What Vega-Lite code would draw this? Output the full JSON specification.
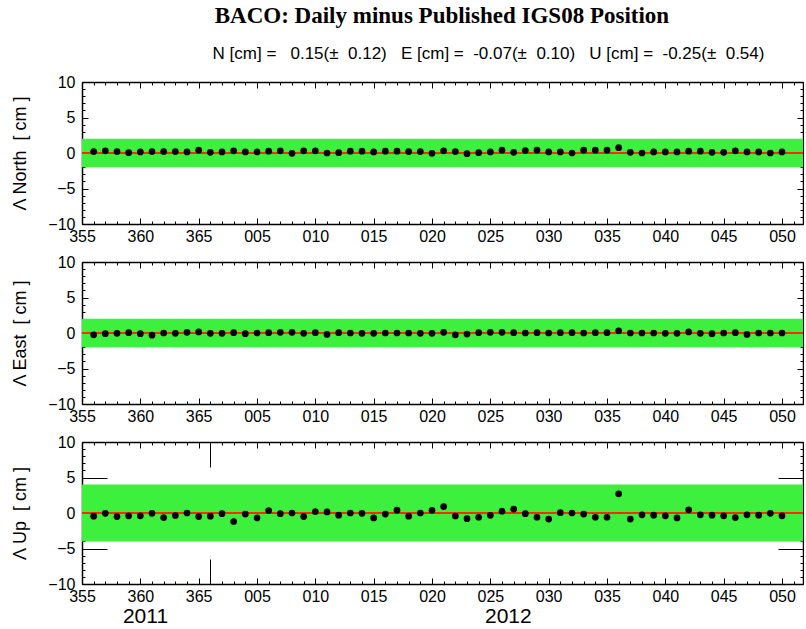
{
  "$schema": "https://vega.github.io/schema/vega-lite/v6.json",
  "background": "white",
  "padding": {"left": 11, "top": 5, "right": 0, "bottom": 0},
  "title": {"text": "BACO: Daily minus Published IGS08 Position", "font": "Liberation Serif", "fontSize": 23, "fontWeight": "bold", "color": "black", "anchor": "middle", "dx": 34, "offset": 17},
  "config": {
    "view": {"stroke": null},
    "axis": {"grid": false, "tickColor": "black", "tickWidth": 1, "domainColor": "black", "domainWidth": 1.5, "labelColor": "black", "labelFont": "Liberation Sans", "labelFontSize": 16, "titleColor": "black", "titleFont": "Liberation Sans", "titleFontSize": 18, "titleFontWeight": "normal", "zindex": 1, "labelFlush": false, "labelOverlap": false}
  },
  "datasets": {
    "d": [
      {"day": 1, "n": 0.2, "e": -0.25, "u": -0.45},
      {"day": 2, "n": 0.3, "e": -0.1, "u": -0.05},
      {"day": 3, "n": 0.2, "e": -0.05, "u": -0.5},
      {"day": 4, "n": 0.05, "e": 0.05, "u": -0.4},
      {"day": 5, "n": 0.15, "e": -0.1, "u": -0.4},
      {"day": 6, "n": 0.2, "e": -0.3, "u": -0.05},
      {"day": 7, "n": 0.2, "e": 0.0, "u": -0.65},
      {"day": 8, "n": 0.2, "e": -0.05, "u": -0.35},
      {"day": 9, "n": 0.15, "e": 0.1, "u": 0.0},
      {"day": 10, "n": 0.4, "e": 0.15, "u": -0.5},
      {"day": 11, "n": 0.1, "e": -0.05, "u": -0.45},
      {"day": 12, "n": 0.15, "e": -0.05, "u": -0.1},
      {"day": 13, "n": 0.3, "e": 0.05, "u": -1.2},
      {"day": 14, "n": 0.15, "e": -0.1, "u": -0.15},
      {"day": 15, "n": 0.15, "e": 0.0, "u": -0.7},
      {"day": 16, "n": 0.25, "e": 0.05, "u": 0.35},
      {"day": 17, "n": 0.3, "e": 0.1, "u": -0.1},
      {"day": 18, "n": -0.05, "e": 0.1, "u": 0.0},
      {"day": 19, "n": 0.3, "e": -0.05, "u": -0.5},
      {"day": 20, "n": 0.3, "e": 0.05, "u": 0.2},
      {"day": 21, "n": 0.0, "e": -0.2, "u": 0.15},
      {"day": 22, "n": 0.05, "e": 0.05, "u": -0.3},
      {"day": 23, "n": 0.25, "e": 0.0, "u": 0.0},
      {"day": 24, "n": 0.25, "e": -0.05, "u": -0.05},
      {"day": 25, "n": 0.15, "e": -0.05, "u": -0.7},
      {"day": 26, "n": 0.25, "e": 0.0, "u": -0.15},
      {"day": 27, "n": 0.25, "e": 0.0, "u": 0.4},
      {"day": 28, "n": 0.2, "e": 0.0, "u": -0.45},
      {"day": 29, "n": 0.2, "e": -0.05, "u": 0.0},
      {"day": 30, "n": -0.05, "e": -0.05, "u": 0.38},
      {"day": 31, "n": 0.3, "e": 0.1, "u": 0.9},
      {"day": 32, "n": 0.2, "e": -0.25, "u": -0.42},
      {"day": 33, "n": -0.1, "e": -0.15, "u": -0.8},
      {"day": 34, "n": 0.05, "e": 0.05, "u": -0.6},
      {"day": 35, "n": 0.15, "e": 0.1, "u": -0.33},
      {"day": 36, "n": 0.4, "e": 0.1, "u": 0.25},
      {"day": 37, "n": 0.1, "e": 0.05, "u": 0.55},
      {"day": 38, "n": 0.35, "e": 0.0, "u": -0.1},
      {"day": 39, "n": 0.4, "e": 0.05, "u": -0.6},
      {"day": 40, "n": 0.15, "e": 0.0, "u": -0.85},
      {"day": 41, "n": 0.15, "e": 0.05, "u": 0.05},
      {"day": 42, "n": 0.0, "e": 0.05, "u": 0.0},
      {"day": 43, "n": 0.4, "e": 0.0, "u": -0.15},
      {"day": 44, "n": 0.4, "e": 0.05, "u": -0.6},
      {"day": 45, "n": 0.4, "e": 0.05, "u": -0.6},
      {"day": 46, "n": 0.75, "e": 0.3, "u": 2.7},
      {"day": 47, "n": 0.1, "e": 0.0, "u": -0.85},
      {"day": 48, "n": 0.0, "e": 0.0, "u": -0.25},
      {"day": 49, "n": 0.15, "e": 0.0, "u": -0.3},
      {"day": 50, "n": 0.15, "e": -0.05, "u": -0.4},
      {"day": 51, "n": 0.15, "e": -0.05, "u": -0.7},
      {"day": 52, "n": 0.25, "e": 0.15, "u": 0.45},
      {"day": 53, "n": 0.25, "e": -0.05, "u": -0.25},
      {"day": 54, "n": 0.1, "e": -0.1, "u": -0.3},
      {"day": 55, "n": 0.1, "e": 0.0, "u": -0.4},
      {"day": 56, "n": 0.3, "e": 0.05, "u": -0.65},
      {"day": 57, "n": 0.15, "e": -0.2, "u": -0.25},
      {"day": 58, "n": 0.15, "e": 0.0, "u": -0.3},
      {"day": 59, "n": 0.0, "e": 0.0, "u": -0.05},
      {"day": 60, "n": 0.15, "e": 0.0, "u": -0.4}
    ]
  },
  "vconcat": [
    {
      "width": 721, "height": 142,
      "title": {"text": "N [cm] =\u00a0\u00a0 0.15(±\u00a0 0.12)\u00a0\u00a0 E [cm] =\u00a0 -0.07(±\u00a0 0.10)\u00a0\u00a0 U [cm] =\u00a0 -0.25(±\u00a0 0.54)", "font": "Liberation Sans", "fontSize": 17, "fontWeight": "normal", "color": "black", "anchor": "middle", "dx": 46, "offset": 11},
      "layer": [
        {"data": {"values": [{"lo": -2, "hi": 2}]}, "mark": {"type": "rect", "color": "#3ef03e"},
         "encoding": {
           "x": {"datum": 0, "type": "quantitative", "scale": {"domain": [0, 61.8], "nice": false, "zero": false}, "axis": {"orient": "bottom", "values": [0,5,10,15,20,25,30,35,40,45,50,55,60], "labelExpr": "datum.value <= 10 ? format(datum.value + 355, 'd') : format(datum.value - 10, '03d')", "tickSize": -6, "labelPadding": 10, "title": null}},
           "x2": {"datum": 61.8},
           "y": {"field": "lo", "type": "quantitative", "scale": {"domain": [-10, 10], "nice": false, "zero": false}, "axis": {"orient": "left", "values": [-10,-5,0,5,10], "tickSize": -6, "labelPadding": 13, "title": "Λ North\u00a0 [ cm ]", "titlePadding": 18}},
           "y2": {"field": "hi"}
         }},
        {"data": {"values": [{"v": 0}]}, "mark": {"type": "rule", "color": "#ff2a00", "strokeWidth": 2},
         "encoding": {
           "x": {"datum": 0, "type": "quantitative", "scale": {"domain": [0, 61.8], "nice": false, "zero": false}, "axis": {"orient": "top", "values": [0,5,10,15,20,25,30,35,40,45,50,55,60], "tickSize": -6, "labels": false, "title": null}},
           "x2": {"datum": 61.8},
           "y": {"field": "v", "type": "quantitative", "scale": {"domain": [-10, 10], "nice": false, "zero": false}, "axis": {"orient": "right", "values": [-10,-5,0,5,10], "tickSize": -6, "labels": false, "title": null}}
         }},
        {"data": {"name": "d"}, "mark": {"type": "point", "filled": true, "color": "black", "size": 45, "opacity": 1},
         "encoding": {
           "x": {"field": "day", "type": "quantitative", "scale": {"domain": [0, 61.8], "nice": false, "zero": false}, "axis": {"orient": "bottom", "values": [0,1,2,3,4,5,6,7,8,9,10,11,12,13,14,15,16,17,18,19,20,21,22,23,24,25,26,27,28,29,30,31,32,33,34,35,36,37,38,39,40,41,42,43,44,45,46,47,48,49,50,51,52,53,54,55,56,57,58,59,60,61], "tickSize": -3, "labels": false, "domain": false, "title": null}},
           "y": {"field": "n", "type": "quantitative", "scale": {"domain": [-10, 10], "nice": false, "zero": false}, "axis": {"orient": "left", "values": [-10,-9,-8,-7,-6,-5,-4,-3,-2,-1,0,1,2,3,4,5,6,7,8,9,10], "tickSize": -3, "labels": false, "domain": false, "title": null}}
         }},
        {"data": {"name": "d"}, "mark": {"type": "point", "opacity": 0},
         "encoding": {
           "x": {"field": "day", "type": "quantitative", "scale": {"domain": [0, 61.8], "nice": false, "zero": false}, "axis": {"orient": "top", "values": [0,1,2,3,4,5,6,7,8,9,10,11,12,13,14,15,16,17,18,19,20,21,22,23,24,25,26,27,28,29,30,31,32,33,34,35,36,37,38,39,40,41,42,43,44,45,46,47,48,49,50,51,52,53,54,55,56,57,58,59,60,61], "tickSize": -3, "labels": false, "domain": false, "title": null}},
           "y": {"field": "n", "type": "quantitative", "scale": {"domain": [-10, 10], "nice": false, "zero": false}, "axis": {"orient": "right", "values": [-10,-9,-8,-7,-6,-5,-4,-3,-2,-1,0,1,2,3,4,5,6,7,8,9,10], "tickSize": -3, "labels": false, "domain": false, "title": null}}
         }}
      ],
      "resolve": {"axis": {"x": "independent", "y": "independent"}}
    },
    {
      "width": 721, "height": 142,
      "layer": [
        {"data": {"values": [{"lo": -2, "hi": 2}]}, "mark": {"type": "rect", "color": "#3ef03e"},
         "encoding": {
           "x": {"datum": 0, "type": "quantitative", "scale": {"domain": [0, 61.8], "nice": false, "zero": false}, "axis": {"orient": "bottom", "values": [0,5,10,15,20,25,30,35,40,45,50,55,60], "labelExpr": "datum.value <= 10 ? format(datum.value + 355, 'd') : format(datum.value - 10, '03d')", "tickSize": -6, "labelPadding": 10, "title": null}},
           "x2": {"datum": 61.8},
           "y": {"field": "lo", "type": "quantitative", "scale": {"domain": [-10, 10], "nice": false, "zero": false}, "axis": {"orient": "left", "values": [-10,-5,0,5,10], "tickSize": -6, "labelPadding": 13, "title": "Λ East\u00a0 [ cm ]", "titlePadding": 18}},
           "y2": {"field": "hi"}
         }},
        {"data": {"values": [{"v": 0}]}, "mark": {"type": "rule", "color": "#ff2a00", "strokeWidth": 2},
         "encoding": {
           "x": {"datum": 0, "type": "quantitative", "scale": {"domain": [0, 61.8], "nice": false, "zero": false}, "axis": {"orient": "top", "values": [0,5,10,15,20,25,30,35,40,45,50,55,60], "tickSize": -6, "labels": false, "title": null}},
           "x2": {"datum": 61.8},
           "y": {"field": "v", "type": "quantitative", "scale": {"domain": [-10, 10], "nice": false, "zero": false}, "axis": {"orient": "right", "values": [-10,-5,0,5,10], "tickSize": -6, "labels": false, "title": null}}
         }},
        {"data": {"name": "d"}, "mark": {"type": "point", "filled": true, "color": "black", "size": 45, "opacity": 1},
         "encoding": {
           "x": {"field": "day", "type": "quantitative", "scale": {"domain": [0, 61.8], "nice": false, "zero": false}, "axis": {"orient": "bottom", "values": [0,1,2,3,4,5,6,7,8,9,10,11,12,13,14,15,16,17,18,19,20,21,22,23,24,25,26,27,28,29,30,31,32,33,34,35,36,37,38,39,40,41,42,43,44,45,46,47,48,49,50,51,52,53,54,55,56,57,58,59,60,61], "tickSize": -3, "labels": false, "domain": false, "title": null}},
           "y": {"field": "e", "type": "quantitative", "scale": {"domain": [-10, 10], "nice": false, "zero": false}, "axis": {"orient": "left", "values": [-10,-9,-8,-7,-6,-5,-4,-3,-2,-1,0,1,2,3,4,5,6,7,8,9,10], "tickSize": -3, "labels": false, "domain": false, "title": null}}
         }},
        {"data": {"name": "d"}, "mark": {"type": "point", "opacity": 0},
         "encoding": {
           "x": {"field": "day", "type": "quantitative", "scale": {"domain": [0, 61.8], "nice": false, "zero": false}, "axis": {"orient": "top", "values": [0,1,2,3,4,5,6,7,8,9,10,11,12,13,14,15,16,17,18,19,20,21,22,23,24,25,26,27,28,29,30,31,32,33,34,35,36,37,38,39,40,41,42,43,44,45,46,47,48,49,50,51,52,53,54,55,56,57,58,59,60,61], "tickSize": -3, "labels": false, "domain": false, "title": null}},
           "y": {"field": "e", "type": "quantitative", "scale": {"domain": [-10, 10], "nice": false, "zero": false}, "axis": {"orient": "right", "values": [-10,-9,-8,-7,-6,-5,-4,-3,-2,-1,0,1,2,3,4,5,6,7,8,9,10], "tickSize": -3, "labels": false, "domain": false, "title": null}}
         }}
      ],
      "resolve": {"axis": {"x": "independent", "y": "independent"}}
    },
    {
      "width": 721, "height": 142,
      "layer": [
        {"data": {"values": [{"lo": -4, "hi": 4}]}, "mark": {"type": "rect", "color": "#3ef03e"},
         "encoding": {
           "x": {"datum": 0, "type": "quantitative", "scale": {"domain": [0, 61.8], "nice": false, "zero": false}, "axis": {"orient": "bottom", "values": [0,5,10,15,20,25,30,35,40,45,50,55,60], "labelExpr": "datum.value <= 10 ? format(datum.value + 355, 'd') : format(datum.value - 10, '03d')", "tickSize": -6, "labelPadding": 10, "title": null}},
           "x2": {"datum": 61.8},
           "y": {"field": "lo", "type": "quantitative", "scale": {"domain": [-10, 10], "nice": false, "zero": false}, "axis": {"orient": "left", "values": [-10,-5,0,5,10], "tickSize": -6, "labelPadding": 13, "title": "Λ Up\u00a0 [ cm ]", "titlePadding": 18}},
           "y2": {"field": "hi"}
         }},
        {"data": {"values": [{"v": 0}]}, "mark": {"type": "rule", "color": "#ff2a00", "strokeWidth": 2},
         "encoding": {
           "x": {"datum": 0, "type": "quantitative", "scale": {"domain": [0, 61.8], "nice": false, "zero": false}, "axis": {"orient": "top", "values": [0,5,10,15,20,25,30,35,40,45,50,55,60], "tickSize": -6, "labels": false, "title": null}},
           "x2": {"datum": 61.8},
           "y": {"field": "v", "type": "quantitative", "scale": {"domain": [-10, 10], "nice": false, "zero": false}, "axis": {"orient": "right", "values": [-10,-5,0,5,10], "tickSize": -6, "labels": false, "title": null}}
         }},
        {"data": {"name": "d"}, "mark": {"type": "point", "filled": true, "color": "black", "size": 45, "opacity": 1},
         "encoding": {
           "x": {"field": "day", "type": "quantitative", "scale": {"domain": [0, 61.8], "nice": false, "zero": false}, "axis": {"orient": "bottom", "values": [0,1,2,3,4,5,6,7,8,9,10,11,12,13,14,15,16,17,18,19,20,21,22,23,24,25,26,27,28,29,30,31,32,33,34,35,36,37,38,39,40,41,42,43,44,45,46,47,48,49,50,51,52,53,54,55,56,57,58,59,60,61], "tickSize": -3, "labels": false, "domain": false, "title": null}},
           "y": {"field": "u", "type": "quantitative", "scale": {"domain": [-10, 10], "nice": false, "zero": false}, "axis": {"orient": "left", "values": [-10,-9,-8,-7,-6,-5,-4,-3,-2,-1,0,1,2,3,4,5,6,7,8,9,10], "tickSize": -3, "labels": false, "domain": false, "title": null}}
         }},
        {"data": {"name": "d"}, "mark": {"type": "point", "opacity": 0},
         "encoding": {
           "x": {"field": "day", "type": "quantitative", "scale": {"domain": [0, 61.8], "nice": false, "zero": false}, "axis": {"orient": "top", "values": [0,1,2,3,4,5,6,7,8,9,10,11,12,13,14,15,16,17,18,19,20,21,22,23,24,25,26,27,28,29,30,31,32,33,34,35,36,37,38,39,40,41,42,43,44,45,46,47,48,49,50,51,52,53,54,55,56,57,58,59,60,61], "tickSize": -3, "labels": false, "domain": false, "title": null}},
           "y": {"field": "u", "type": "quantitative", "scale": {"domain": [-10, 10], "nice": false, "zero": false}, "axis": {"orient": "right", "values": [-10,-9,-8,-7,-6,-5,-4,-3,-2,-1,0,1,2,3,4,5,6,7,8,9,10], "tickSize": -3, "labels": false, "domain": false, "title": null}}
         }},
        {"data": {"name": "d"}, "mark": {"type": "point", "opacity": 0},
         "encoding": {
           "x": {"field": "day", "type": "quantitative", "scale": {"domain": [0, 61.8], "nice": false, "zero": false}, "axis": {"orient": "bottom", "values": [11], "tickSize": -25, "labels": false, "domain": false, "title": null}},
           "y": {"field": "u", "type": "quantitative", "scale": {"domain": [-10, 10], "nice": false, "zero": false}, "axis": {"orient": "left", "values": [-5, 5], "tickSize": -25, "labels": false, "domain": false, "title": null}}
         }},
        {"data": {"name": "d"}, "mark": {"type": "point", "opacity": 0},
         "encoding": {
           "x": {"field": "day", "type": "quantitative", "scale": {"domain": [0, 61.8], "nice": false, "zero": false}, "axis": {"orient": "top", "values": [11], "tickSize": -25, "labels": false, "domain": false, "title": null}},
           "y": {"field": "u", "type": "quantitative", "scale": {"domain": [-10, 10], "nice": false, "zero": false}, "axis": {"orient": "right", "values": [-5, 5], "tickSize": -25, "labels": false, "domain": false, "title": null}}
         }},
        {"data": {"name": "d"}, "mark": {"type": "point", "opacity": 0},
         "encoding": {
           "x": {"field": "day", "type": "quantitative", "scale": {"domain": [0, 61.8], "nice": false, "zero": false}, "axis": {"orient": "bottom", "values": [5.4, 36.5], "labelExpr": "datum.value < 11 ? '2011' : '2012'", "ticks": false, "domain": false, "labelFontSize": 21, "labelPadding": 21, "title": null}},
           "y": {"field": "u", "type": "quantitative", "scale": {"domain": [-10, 10], "nice": false, "zero": false}, "axis": null}
         }}
      ],
      "resolve": {"axis": {"x": "independent", "y": "independent"}}
    }
  ],
  "spacing": 38,
  "bounds": "flush"
}
